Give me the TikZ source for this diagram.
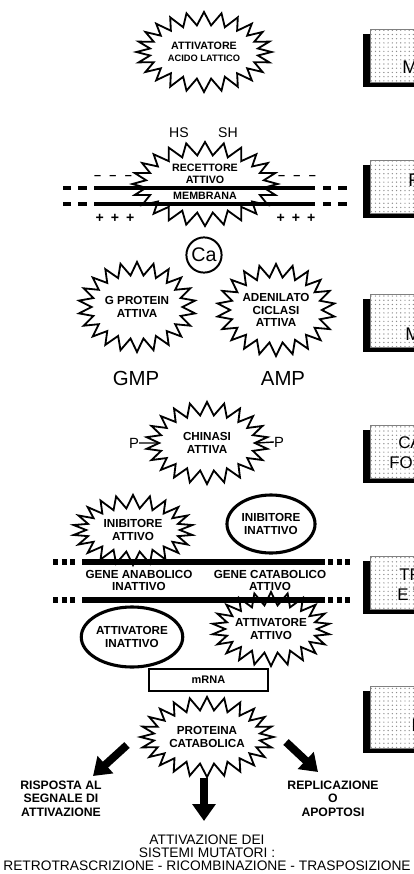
\documentclass[tikz,border=0pt]{standalone}
\usepackage{fontspec}
\setmainfont{Liberation Sans}
\usetikzlibrary{shapes.symbols,shapes.geometric,arrows.meta,patterns,shadows}

\newcommand{\lblfont}{\fontsize{8.3}{9}\selectfont\bfseries}
\newcommand{\topfont}{\fontsize{7.6}{8.5}\selectfont\bfseries}
\newcommand{\outfont}{\fontsize{8.7}{9.6}\selectfont\bfseries}
\newcommand{\mutfont}{\fontsize{9.8}{9.3}\selectfont}

\tikzstyle{burst} = [starburst, starburst points=22, starburst point height=0.33cm, random starburst=0, draw, fill=white, line width=1.3pt, align=center, inner xsep=-6pt, inner ysep=-1pt, font=\lblfont]
\tikzstyle{oval} = [ellipse, draw, line width=2.2pt, fill=white, align=center, inner sep=0pt, font=\lblfont]
\tikzstyle{tagbox} = [rectangle, draw=black!50, line width=0.4pt, minimum width=2.5cm, minimum height=1.33cm, drop shadow={shadow xshift=-4.8pt, shadow yshift=-3.6pt, fill=black, opacity=1}, preaction={fill=white}, pattern=dots, pattern color=black!45]
\tikzstyle{tagtext} = [anchor=base west, inner sep=0pt, font=\fontsize{13}{13}\selectfont]
\tikzstyle{plain} = [inner sep=0pt, align=center]
\tikzstyle{membrane} = [line width=3.3pt]
\tikzstyle{dna} = [line width=4.6pt]
\tikzstyle{fatarrow} = [line width=5.6pt, -{Triangle[width=16pt,length=12pt]}]

\begin{document}
\begin{tikzpicture}[x=0.025cm, y=-0.025cm]
\useasboundingbox (0,0) rectangle (414,874);
\clip (0,0) rectangle (414,874);

% tags on the right, cut by the page
\node (tag1) [tagbox] at (420,55.5) {};
\node (tag2) [tagbox] at (420,186.5) {};
\node (tag3) [tagbox] at (420,320.5) {};
\node (tag4) [tagbox] at (420,451.5) {};
\node (tag5) [tagbox] at (420,582.5) {};
\node (tag6) [tagbox, minimum height=1.55cm] at (420,717) {};
\node (tag1t) [tagtext] at (402,73) {M};
\node (tag2t) [tagtext] at (408,186) {F};
\node (tag3t) [tagtext] at (405,340) {M};
\node (tag4t) [tagtext, font=\fontsize{12}{12}\selectfont] at (398,448) {CA};
\node (tag4b) [tagtext, font=\fontsize{12}{12}\selectfont] at (389,468) {FO};
\node (tag5t) [tagtext, font=\fontsize{12}{12}\selectfont] at (399,580) {TR};
\node (tag5b) [tagtext, font=\fontsize{12}{12}\selectfont] at (397,600) {E T};
\node (tag6t) [tagtext] at (411,731) {I};

% activator
\node (acido) [burst, starburst points=24, minimum width=3.38cm, minimum height=2cm, font=\topfont] at (204,52) {ATTIVATORE\\{\fontsize{6.6}{8}\selectfont ACIDO LATTICO}};

% receptor on the membrane
\node (hs) [plain, font=\fontsize{10}{10}\selectfont] at (179,133) {HS};
\node (sh) [plain, font=\fontsize{10}{10}\selectfont] at (228,133) {SH};
\node (recet) [burst, starburst points=24, minimum width=3.63cm, minimum height=2.1cm] at (205,184) {};
\draw [membrane] (94,188) -- (315,188);
\draw [membrane] (94,204) -- (315,204);
\draw [membrane, dash pattern=on 6pt off 5pt] (63,188) -- (87,188);
\draw [membrane, dash pattern=on 6pt off 5pt] (63,204) -- (87,204);
\draw [membrane, dash pattern=on 6pt off 5pt] (323,188) -- (348,188);
\draw [membrane, dash pattern=on 6pt off 5pt] (323,204) -- (348,204);
\node (rectxt) [plain, font=\topfont] at (205,174) {RECETTORE\\ATTIVO};
\node (membtxt) [plain, font=\topfont] at (205,196.3) {MEMBRANA};
\node (minl) [plain, font=\fontsize{9}{9}\selectfont\bfseries] at (113,177) {--\hspace{6pt}--\hspace{6pt}--};
\node (minr) [plain, font=\fontsize{9}{9}\selectfont\bfseries] at (297,177) {--\hspace{6pt}--\hspace{6pt}--};
\node (plusl) [plain, font=\fontsize{10}{10}\selectfont\bfseries] at (115,218) {+\enspace+\enspace+};
\node (plusr) [plain, font=\fontsize{10}{10}\selectfont\bfseries] at (296,218) {+\enspace+\enspace+};
\node (calcium) [circle, draw, line width=1.4pt, minimum size=0.88cm, inner sep=0pt, font=\fontsize{14}{14}\selectfont] at (204,255) {Ca};

% second messengers
\node (gprot) [burst, minimum width=2.93cm, minimum height=2.25cm] at (137,307) {G PROTEIN\\ATTIVA};
\node (adcic) [burst, minimum width=2.95cm, minimum height=2.3cm] at (276,310) {ADENILATO\\CICLASI\\ATTIVA};
\node (gmp) [plain, font=\fontsize{14.5}{14.5}\selectfont] at (136,378) {GMP};
\node (amp) [plain, font=\fontsize{14.5}{14.5}\selectfont] at (283,378) {AMP};

% kinase
\node (chinasi) [burst, minimum width=3.05cm, minimum height=2.05cm] at (207,443) {CHINASI\\ATTIVA};
\node (pleft) [plain, font=\fontsize{10.5}{10}\selectfont] at (134,443) {P};
\node (pright) [plain, font=\fontsize{10.5}{10}\selectfont] at (279,442) {P};
\draw [line width=1pt] (pleft.east) -- (chinasi.west);
\draw [line width=1pt] (chinasi.east) -- (pright.west);

% genes
\node (inibatt) [burst, minimum width=3cm, minimum height=1.75cm] at (133,530) {INIBITORE\\ATTIVO};
\node (inibin) [oval, minimum width=2.2cm, minimum height=1.45cm] at (271,524) {INIBITORE\\INATTIVO};
\node (attin) [oval, minimum width=2.23cm, minimum height=1.5cm] at (132,637) {ATTIVATORE\\INATTIVO};
\node (attatt) [burst, minimum width=2.95cm, minimum height=1.85cm] at (271,629) {ATTIVATORE\\ATTIVO};
\draw [dna] (82,562) -- (325,562);
\draw [dna] (82,600) -- (325,600);
\draw [dna, dash pattern=on 3.6pt off 2.5pt] (53,562) -- (78,562);
\draw [dna, dash pattern=on 3.6pt off 2.5pt] (53,600) -- (78,600);
\draw [dna, dash pattern=on 3.6pt off 2.5pt] (328,562) -- (353,562);
\draw [dna, dash pattern=on 3.6pt off 2.5pt] (328,600) -- (353,600);
\node (anab) [plain, font=\lblfont] at (139,580.5) {GENE ANABOLICO\\INATTIVO};
\node (catab) [plain, font=\lblfont] at (270,580.5) {GENE CATABOLICO\\ATTIVO};

% product
\node (mrna) [rectangle, draw, line width=1.7pt, minimum width=2.98cm, minimum height=0.55cm, inner sep=0pt, font=\fontsize{7.8}{8}\selectfont\bfseries] at (208.5,680) {mRNA};
\node (protcat) [burst, starburst points=24, minimum width=3.33cm, minimum height=2cm] at (207,737) {PROTEINA\\CATABOLICA};

% outcomes
\coordinate (leftfrom) at (127,745);
\coordinate (leftto) at (93,776);
\coordinate (downfrom) at (204,778);
\coordinate (downto) at (204,821);
\coordinate (rightfrom) at (286,742);
\coordinate (rightto) at (318,772);
\draw [fatarrow] (leftfrom) -- (leftto);
\draw [fatarrow] (downfrom) -- (downto);
\draw [fatarrow] (rightfrom) -- (rightto);
\node (risposta) [plain, font=\outfont] at (61,798.5) {RISPOSTA AL\\SEGNALE DI\\ATTIVAZIONE};
\node (replic) [plain, font=\outfont] at (333,798.5) {REPLICAZIONE\\O\\APOPTOSI};
\node (mutat) [plain, font=\mutfont] at (207,853) {ATTIVAZIONE DEI\\SISTEMI MUTATORI :\\RETROTRASCRIZIONE - RICOMBINAZIONE - TRASPOSIZIONE};
\end{tikzpicture}
\end{document}
